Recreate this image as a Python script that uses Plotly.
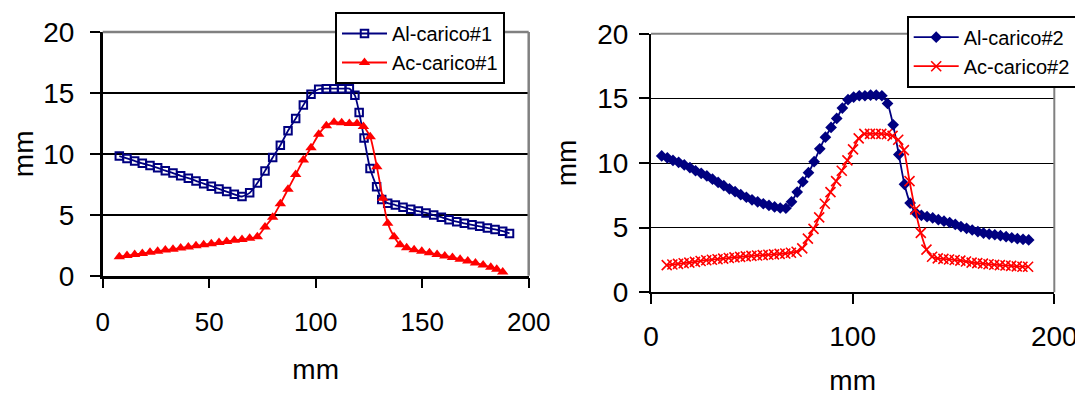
import plotly.graph_objects as go

# ---------------- data ----------------
# left chart (carico #1)
x_al1 = [7.8, 11.4, 15.0, 18.6, 22.2, 25.8, 29.4, 33.0, 36.6, 40.2, 43.8, 47.4, 51.0, 54.6, 58.2,
         61.8, 65.4, 69.0, 72.6, 76.2, 79.8, 83.4, 87.0, 90.6, 94.2, 97.8, 101.4, 105.0, 108.6,
         112.2, 115.8, 118.4, 120.4, 122.7, 125.5, 128.6, 131.0, 133.8, 137.4, 141.0, 144.6,
         148.2, 151.8, 155.4, 159.0, 162.6, 166.2, 169.8, 173.4, 177.0, 180.6, 184.2, 187.8, 191.0]
y_al1 = [9.82, 9.62, 9.42, 9.22, 9.05, 8.85, 8.62, 8.42, 8.2, 8.0, 7.78, 7.55, 7.35, 7.12, 6.9,
         6.68, 6.5, 6.8, 7.6, 8.6, 9.7, 10.7, 11.9, 12.9, 14.0, 14.9, 15.3, 15.35, 15.35,
         15.35, 15.35, 14.8, 13.4, 11.3, 8.8, 7.3, 6.25, 5.95, 5.8, 5.62, 5.45,
         5.3, 5.15, 4.98, 4.8, 4.6, 4.43, 4.3, 4.18, 4.05, 3.92, 3.8, 3.65, 3.47]

x_ac1 = [7.8, 11.4, 15.0, 18.6, 22.2, 25.8, 29.4, 33.0, 36.6, 40.2, 43.8, 47.4, 51.0, 54.6, 58.2,
         61.8, 65.4, 69.0, 72.6, 76.2, 79.8, 83.4, 87.0, 90.6, 94.2, 97.8, 101.4, 105.0, 108.6,
         112.2, 115.8, 119.4, 122.4, 125.6, 128.7, 131.5, 133.8, 136.8, 139.6, 142.7, 146.2,
         149.8, 153.4, 157.0, 160.6, 164.2, 167.8, 171.4, 175.0, 178.6, 182.2, 185.0, 187.8]
y_ac1 = [1.56, 1.65, 1.74, 1.83, 1.92, 2.0, 2.1, 2.18, 2.27, 2.36, 2.45, 2.54, 2.63, 2.72, 2.8,
         2.9, 2.98, 3.07, 3.2, 4.0, 4.8, 5.9, 7.1, 8.3, 9.5, 10.5, 11.6, 12.3, 12.6,
         12.55, 12.5, 12.5, 12.25, 11.4, 8.95, 6.35, 4.3, 3.2, 2.55, 2.3, 2.12,
         2.0, 1.88, 1.75, 1.62, 1.5, 1.35, 1.2, 1.05, 0.88, 0.7, 0.52, 0.3]

# right chart (carico #2)
x_al2 = [5.3, 8.1, 10.9, 13.7, 16.5, 19.3, 22.1, 24.9, 27.7, 30.5, 33.3, 36.1, 38.9, 41.7, 44.5,
         47.3, 50.1, 52.9, 55.7, 58.5, 61.3, 64.1, 66.9, 69.7, 72.5, 75.3, 78.1, 80.9, 83.7,
         86.5, 89.3, 92.1, 94.9, 97.7, 100.5, 103.3, 106.1, 108.9, 111.7, 114.5, 117.3, 120.1,
         122.9, 125.7, 128.5, 131.3, 134.1, 136.9, 139.7, 142.5, 145.3, 148.1, 150.9, 153.7,
         156.5, 159.3, 162.1, 164.9, 167.7, 170.5, 173.3, 176.1, 178.9, 181.7, 184.5, 187.3]
y_al2 = [10.55, 10.4, 10.2, 10.05, 9.85, 9.65, 9.4, 9.2, 9.0, 8.75, 8.5, 8.25, 8.0, 7.78, 7.55,
         7.35, 7.15, 7.0, 6.85, 6.72, 6.6, 6.52, 6.5, 7.0, 7.75, 8.55, 9.25, 10.1, 11.1,
         12.0, 12.75, 13.45, 14.25, 14.9, 15.1, 15.2, 15.2, 15.25, 15.25, 15.2, 14.6, 12.95,
         10.65, 8.35, 6.9, 6.15, 5.95, 5.85, 5.75, 5.62, 5.5, 5.4, 5.25, 5.08,
         4.95, 4.82, 4.7, 4.58, 4.5, 4.45, 4.38, 4.3, 4.22, 4.15, 4.1, 4.05]

x_ac2 = [7.8, 10.6, 13.4, 16.2, 19.0, 21.8, 24.6, 27.4, 30.2, 33.0, 35.8, 38.6, 41.4, 44.2, 47.0,
         49.8, 52.6, 55.4, 58.2, 61.0, 63.8, 66.6, 69.4, 72.2, 75.0, 77.8, 80.6, 83.4, 86.2,
         89.0, 91.8, 94.6, 97.4, 100.2, 103.0, 105.8, 108.6, 111.4, 114.2, 117.0, 119.8, 122.6,
         125.4, 128.2, 131.0, 133.8, 136.6, 139.4, 142.2, 145.0, 147.8, 150.6, 153.4, 156.2,
         159.0, 161.8, 164.6, 167.4, 170.2, 173.0, 175.8, 178.6, 181.4, 184.2, 187.0]
y_ac2 = [2.1, 2.15, 2.2, 2.25, 2.3, 2.35, 2.42, 2.48, 2.52, 2.56, 2.6, 2.65, 2.7, 2.74, 2.78,
         2.82, 2.85, 2.87, 2.9, 2.93, 2.97, 3.0, 3.06, 3.14, 3.4, 4.15, 4.9, 5.8, 6.85,
         7.75, 8.6, 9.4, 10.2, 11.05, 11.9, 12.25, 12.25, 12.25, 12.25, 12.22, 12.1, 11.8,
         11.0, 8.6, 6.4, 4.6, 3.3, 2.75, 2.62, 2.58, 2.54, 2.5, 2.45, 2.38,
         2.3, 2.26, 2.22, 2.17, 2.13, 2.1, 2.07, 2.04, 2.01, 1.98, 1.98]

x_ticks_left = [0, 50, 100, 150, 200]
x_ticks_right = [0, 100, 200]
y_ticks = [0, 5, 10, 15, 20]

NAVY = "#000080"
RED = "#FF0000"
FONT = "Liberation Sans, Arial, sans-serif"

fig = go.Figure()

fig.add_trace(go.Scatter(
    x=x_al1, y=y_al1, name="Al-carico#1", mode="lines+markers",
    line=dict(color=NAVY, width=1.8, shape="spline", smoothing=0.6),
    marker=dict(symbol="square-open", size=7.5, color=NAVY, line=dict(width=2, color=NAVY)),
    xaxis="x", yaxis="y", legend="legend"))
fig.add_trace(go.Scatter(
    x=x_ac1, y=y_ac1, name="Ac-carico#1", mode="lines+markers",
    line=dict(color=RED, width=1.8, shape="spline", smoothing=0.6),
    marker=dict(symbol="triangle-up", size=10, color=RED),
    xaxis="x", yaxis="y", legend="legend"))
fig.add_trace(go.Scatter(
    x=x_al2, y=y_al2, name="Al-carico#2", mode="lines+markers",
    line=dict(color=NAVY, width=1.8, shape="spline", smoothing=0.6),
    marker=dict(symbol="diamond", size=9, color=NAVY),
    xaxis="x2", yaxis="y2", legend="legend2"))
fig.add_trace(go.Scatter(
    x=x_ac2, y=y_ac2, name="Ac-carico#2", mode="lines+markers",
    line=dict(color=RED, width=1.8, shape="spline", smoothing=0.6),
    marker=dict(symbol="x-thin", size=10, color=RED, line=dict(width=1.6, color=RED)),
    xaxis="x2", yaxis="y2", legend="legend2"))

W, H = 1083, 397
OFF = 8  # the page body adds an 8 px margin around the figure
# plot-area pixel boxes measured on the reference (window coordinates)
L1 = (102.7, 528.7, 32.0, 275.7)
L2 = (651.0, 1054.3, 33.7, 292.3)

def xdom(b):
    return [(b[0] - OFF) / W, (b[1] - OFF) / W]

def ydom(b):
    return [(H - (b[3] - OFF)) / H, (H - (b[2] - OFF)) / H]

common_x = dict(range=[0, 200], showline=True, linecolor="black", ticks="outside",
                tickcolor="black", ticklen=10, tickwidth=2, showgrid=False, zeroline=False,
                automargin=False,
                title_font=dict(family=FONT, size=28, color="black"))
common_y = dict(range=[0, 20], tickvals=y_ticks, showline=True, linecolor="black",
                ticks="outside", tickcolor="black", ticklen=10, tickwidth=2, showgrid=True,
                gridcolor="black", zeroline=False, automargin=False,
                title_font=dict(family=FONT, size=28, color="black"))

fig.update_layout(
    width=W, height=H, margin=dict(l=0, r=0, t=0, b=0, autoexpand=False),
    paper_bgcolor="white", plot_bgcolor="white",
    font=dict(family=FONT, color="black"),
    xaxis=dict(common_x, domain=xdom(L1), anchor="y", tickvals=x_ticks_left, linewidth=2.5,
               tickfont=dict(family=FONT, size=26), ticklabelstandoff=11,
               title=dict(text="mm", standoff=24)),
    yaxis=dict(common_y, domain=ydom(L1), anchor="x", linewidth=2.5, gridwidth=2,
               tickfont=dict(family=FONT, size=28), ticklabelstandoff=10,
               title=dict(text="mm", standoff=8)),
    xaxis2=dict(common_x, domain=xdom(L2), anchor="y2", tickvals=x_ticks_right, linewidth=2,
                tickfont=dict(family=FONT, size=28), ticklabelstandoff=8,
                title=dict(text="mm", standoff=19)),
    yaxis2=dict(common_y, domain=ydom(L2), anchor="x2", linewidth=2, gridwidth=1,
                tickfont=dict(family=FONT, size=28), ticklabelstandoff=5,
                title=dict(text="mm", standoff=12)),
    legend=dict(x=(335 - OFF) / W, y=1 - (12 - OFF) / H, xanchor="left", yanchor="top",
                bgcolor="white", bordercolor="black", borderwidth=2,
                font=dict(family=FONT, size=20, color="black"), itemwidth=45,
                tracegroupgap=0),
    legend2=dict(x=(906.7 - OFF) / W, y=1 - (15.7 - OFF) / H, xanchor="left", yanchor="top",
                 bgcolor="white", bordercolor="black", borderwidth=2,
                 font=dict(family=FONT, size=20, color="black"), itemwidth=45,
                 tracegroupgap=0),
    shapes=[
        dict(type="line", xref="x domain", yref="y domain", x0=0, x1=1, y0=1, y1=1,
             line=dict(color="#808080", width=2.5), layer="above"),
        dict(type="line", xref="x domain", yref="y domain", x0=1, x1=1, y0=0, y1=1,
             line=dict(color="#808080", width=2.5), layer="above"),
        dict(type="line", xref="x2 domain", yref="y2 domain", x0=0, x1=1, y0=1, y1=1,
             line=dict(color="#808080", width=2), layer="above"),
        dict(type="line", xref="x2 domain", yref="y2 domain", x0=1, x1=1, y0=0, y1=1,
             line=dict(color="#808080", width=2), layer="above"),
    ],
)

fig.write_html("out.html")
